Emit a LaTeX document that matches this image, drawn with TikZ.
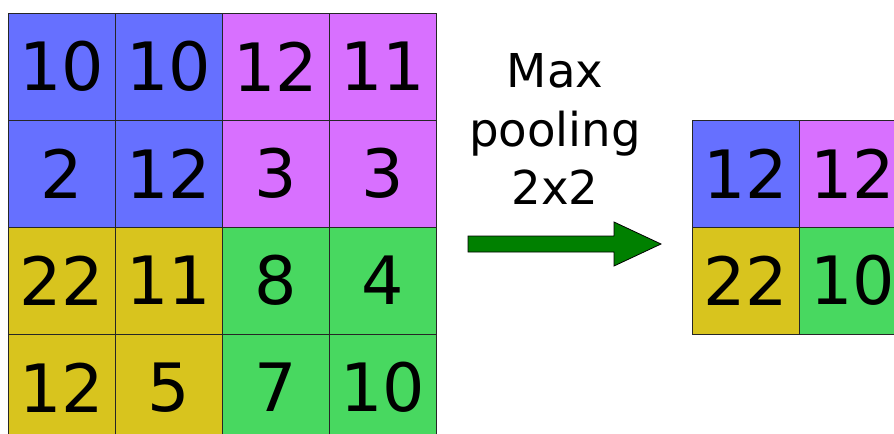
\documentclass[tikz,border=0pt]{standalone}
\usepackage{fontspec}
\setmainfont{DejaVu Sans}
\definecolor{poolblue}{HTML}{6670FF}
\definecolor{poolpurple}{HTML}{D870FF}
\definecolor{poolyellow}{HTML}{D8C41E}
\definecolor{poolgreen}{HTML}{48D860}
\definecolor{arrowgreen}{HTML}{008000}
\tikzset{cell/.style={draw=black!85,line width=0.75pt,minimum size=80.25pt,inner sep=0pt,font=\fontsize{50}{50}\selectfont}}

\begin{document}
\begin{tikzpicture}[x=0.75pt,y=-0.75pt]
\useasboundingbox (0,0) rectangle (894,433);
% input 4x4
\node[cell,fill=poolblue] (a11) at (61.5,66.5) {10};
\node[cell,fill=poolblue] (a12) at (168.5,66.5) {10};
\node[cell,fill=poolpurple] (a13) at (275.5,66.5) {12};
\node[cell,fill=poolpurple] (a14) at (382.5,66.5) {11};
\node[cell,fill=poolblue] (a21) at (61.5,173.5) {2};
\node[cell,fill=poolblue] (a22) at (168.5,173.5) {12};
\node[cell,fill=poolpurple] (a23) at (275.5,173.5) {3};
\node[cell,fill=poolpurple] (a24) at (382.5,173.5) {3};
\node[cell,fill=poolyellow] (a31) at (61.5,280.5) {22};
\node[cell,fill=poolyellow] (a32) at (168.5,280.5) {11};
\node[cell,fill=poolgreen] (a33) at (275.5,280.5) {8};
\node[cell,fill=poolgreen] (a34) at (382.5,280.5) {4};
\node[cell,fill=poolyellow] (a41) at (61.5,387.5) {12};
\node[cell,fill=poolyellow] (a42) at (168.5,387.5) {5};
\node[cell,fill=poolgreen] (a43) at (275.5,387.5) {7};
\node[cell,fill=poolgreen] (a44) at (382.5,387.5) {10};
% label
\node[align=center,font=\fontsize{35}{44}\selectfont] (lbl) at (555,129) {Max\\pooling\\2x2};
% arrow
\coordinate (tail) at (468,244);
\coordinate (tip) at (661,244);
\draw[fill=arrowgreen,line width=0.6pt] (tail) ++(0,-8) -- ++(146,0) -- ++(0,-14) -- (tip) -- ++(-47,22) -- ++(0,-14) -- ++(-146,0) -- cycle;
% output 2x2
\node[cell,fill=poolblue] (b11) at (745.5,173.5) {12};
\node[cell,fill=poolpurple] (b12) at (852.5,173.5) {12};
\node[cell,fill=poolyellow] (b21) at (745.5,280.5) {22};
\node[cell,fill=poolgreen] (b22) at (852.5,280.5) {10};
\end{tikzpicture}
\end{document}
